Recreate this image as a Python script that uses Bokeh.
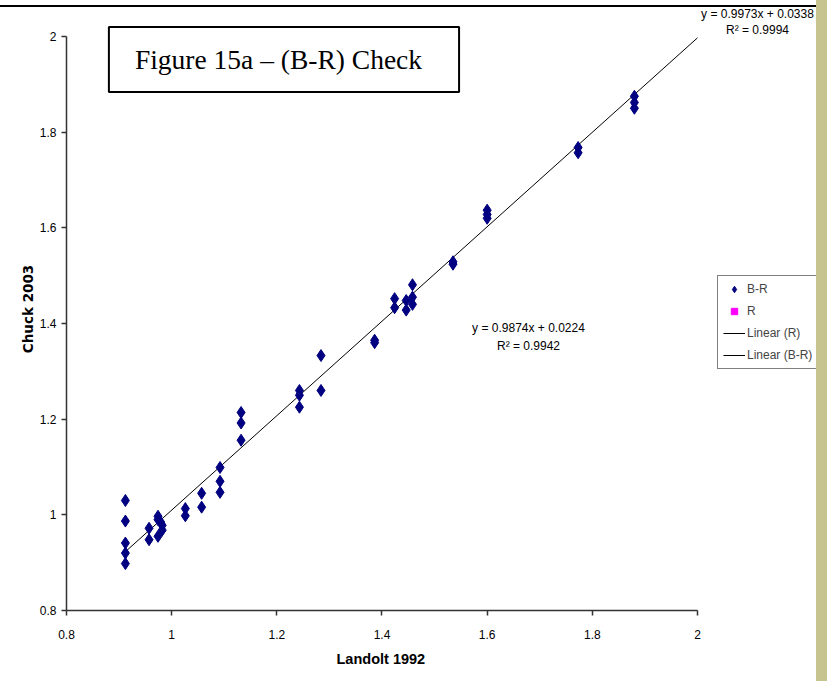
from bokeh.plotting import figure
from bokeh.models import Range1d, FixedTicker, Label, Legend, LegendItem, Div, ColumnDataSource, Title
from bokeh.layouts import row, column
from bokeh.embed import file_html
from bokeh.resources import INLINE

# ---- data ----
br_x = [0.912, 0.912, 0.912, 0.912, 0.912,
        0.957, 0.957,
        0.974, 0.974, 0.974, 0.979, 0.982, 0.982,
        1.026, 1.026,
        1.057, 1.057,
        1.092, 1.092, 1.092,
        1.132, 1.132, 1.132,
        1.243, 1.243, 1.243,
        1.284, 1.284,
        1.386, 1.386,
        1.424, 1.424,
        1.446, 1.446,
        1.458, 1.458, 1.458,
        1.535, 1.535,
        1.600, 1.600, 1.600,
        1.773, 1.773,
        1.880, 1.880, 1.880]
br_y = [1.030, 0.987, 0.941, 0.920, 0.898,
        0.972, 0.948,
        0.997, 0.990, 0.955, 0.985, 0.978, 0.968,
        1.013, 0.998,
        1.045, 1.016,
        1.099, 1.070, 1.047,
        1.214, 1.192, 1.156,
        1.260, 1.250, 1.225,
        1.333, 1.260,
        1.365, 1.360,
        1.452, 1.433,
        1.448, 1.428,
        1.481, 1.455, 1.440,
        1.529, 1.524,
        1.637, 1.628, 1.620,
        1.768, 1.757,
        1.875, 1.862, 1.850]
# the R series shows no visible points in the picture
r_x = [float("nan")]
r_y = [float("nan")]

fit_br = (0.9874, 0.0224)   # slope, intercept  (Linear (B-R))
fit_r = (0.9973, 0.0338)    # slope, intercept  (Linear (R))
eq_br = ["y = 0.9874x + 0.0224", "R\u00b2 = 0.9942"]
eq_r = ["y = 0.9973x + 0.0338", "R\u00b2 = 0.9994"]

axis_min, axis_max = 0.8, 2.0
x_ticks = [0.8, 1.0, 1.2, 1.4, 1.6, 1.8, 2.0]
x_tick_labels = ["0.8", "1", "1.2", "1.4", "1.6", "1.8", "2"]
y_ticks = [0.8, 1.0, 1.2, 1.4, 1.6, 1.8, 2.0]
y_tick_labels = ["0.8", "1", "1.2", "1.4", "1.6", "1.8", "2"]

title_text = "Figure 15a \u2013 (B-R) Check"
x_title = "Landolt 1992"
y_title = "Chuck 2003"

SANS = "Liberation Sans"

# frame starts at the axes and reaches the top/right edges so the boxed texts are not clipped
p = figure(width=816, height=674, x_range=Range1d(0.8, 2.22631), y_range=Range1d(0.8, 2.06063),
           output_backend="svg", toolbar_location=None,
           min_border_left=66, min_border_right=0, min_border_top=0, min_border_bottom=71)
p.outline_line_color = None
p.grid.visible = False
p.background_fill_color = "white"
p.border_fill_color = "white"

for ax, ticks, labels in ((p.xaxis[0], x_ticks, x_tick_labels),
                          (p.yaxis[0], y_ticks, y_tick_labels)):
    ax.ticker = FixedTicker(ticks=ticks)
    ax.major_label_overrides = dict(zip(ticks, labels))
    ax.bounds = (axis_min, axis_max)
    ax.minor_tick_line_color = None
    ax.major_tick_in = 0
    ax.major_tick_out = 5
    ax.axis_line_color = "#333333"
    ax.axis_line_width = 1.5
    ax.major_tick_line_color = "#333333"
    ax.major_tick_line_width = 1.5
    ax.major_label_text_font = SANS
    ax.major_label_text_font_size = "12px"
    ax.major_label_text_color = "black"

p.xaxis.major_label_standoff = 14
p.yaxis.major_label_standoff = 5
p.yaxis.axis_label = y_title
p.yaxis.axis_label_text_font_style = "bold"
p.yaxis.axis_label_text_color = "black"
p.yaxis.axis_label_text_font = "DejaVu Sans"
p.yaxis.axis_label_text_font_size = "13.5px"
p.yaxis.axis_label_standoff = 1

# x-axis title, centred under the axis span (not under the whole frame)
p.add_layout(Title(text=x_title, align="left", offset=270, text_font=SANS, text_font_style="bold",
                   text_font_size="14.5px", text_color="black", standoff=14), "below")

# trend lines
xl = [min(br_x), axis_max]
src_lbr = ColumnDataSource(dict(x=xl, y=[fit_br[0] * v + fit_br[1] for v in xl]))
src_lr = ColumnDataSource(dict(x=list(r_x), y=[fit_r[0] * v + fit_r[1] for v in r_x]))
l_r = p.line("x", "y", source=src_lr, line_color="black", line_width=1)
l_br = p.line("x", "y", source=src_lbr, line_color="black", line_width=1)

s_br = p.scatter(br_x, br_y, marker="diamond", size=12, fill_color="#000080", line_color="#000080")
s_r = p.scatter(r_x, r_y, marker="square", size=6, fill_color="#ff00ff", line_color="#ff00ff")

legend = Legend(items=[LegendItem(label="B-R", renderers=[s_br]),
                       LegendItem(label="R", renderers=[s_r]),
                       LegendItem(label="Linear (R)", renderers=[l_r]),
                       LegendItem(label="Linear (B-R)", renderers=[l_br])],
                location=(651, 241), border_line_color="black", border_line_width=1,
                background_fill_color="white", background_fill_alpha=1,
                label_text_font=SANS, label_text_font_size="12px",
                glyph_width=22, glyph_height=16, label_height=16, label_standoff=2,
                spacing=6, padding=5, margin=0)
p.add_layout(legend, "center")

# title box
p.add_layout(Label(x=1.2136, y=1.9519, text=title_text, text_align="center", text_baseline="middle",
                   text_font="Liberation Serif", text_font_size="27.5px",
                   text_color="black", border_line_color="black", border_line_width=2,
                   background_fill_color="white",
                   padding=dict(left=26, right=37, top=17, bottom=17)))

# equation labels
for txt, yy in zip(eq_r, [2.0460, 2.0126]):
    p.add_layout(Label(x=2.1141, y=yy, text=txt, text_align="center", text_baseline="middle",
                       text_font=SANS, text_font_size="12px", text_color="black"))
for txt, yy in zip(eq_br, [1.3896, 1.3540]):
    p.add_layout(Label(x=1.6786, y=yy, text=txt, text_align="center", text_baseline="middle",
                       text_font=SANS, text_font_size="12px", text_color="black"))

top = Div(text="", width=816, height=7, margin=0,
          styles={"border-bottom": "2px solid black", "box-sizing": "border-box", "background-color": "white"})
strip = Div(text="", width=11, height=681, margin=0, styles={"background-color": "#c8c490"})

layout = row(column(top, p, spacing=0), strip, spacing=0)
open("out.html", "w").write(file_html(layout, INLINE))
